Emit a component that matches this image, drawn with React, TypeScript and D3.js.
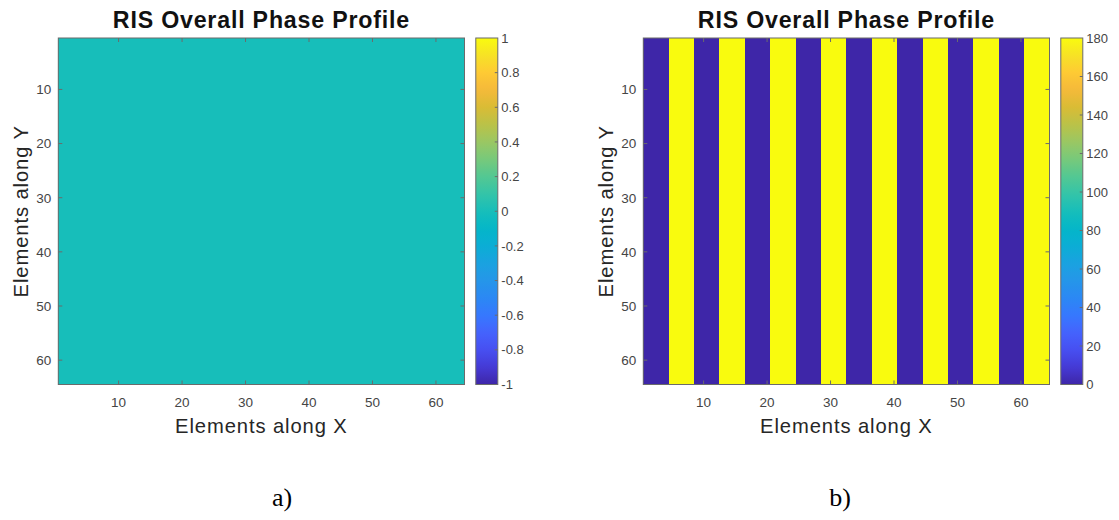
import React from "react";
import * as d3 from "d3";

// Phase (deg) per RIS column; every row of the 64x64 array repeats the same column profile.
const phaseColsA: number[] = [
  0, 0, 0, 0, 0, 0, 0, 0, 0, 0, 0, 0, 0, 0, 0, 0,
  0, 0, 0, 0, 0, 0, 0, 0, 0, 0, 0, 0, 0, 0, 0, 0,
  0, 0, 0, 0, 0, 0, 0, 0, 0, 0, 0, 0, 0, 0, 0, 0,
  0, 0, 0, 0, 0, 0, 0, 0, 0, 0, 0, 0, 0, 0, 0, 0,
];
const phaseColsB: number[] = [
  0, 0, 0, 0, 180, 180, 180, 180, 0, 0, 0, 0, 180, 180, 180, 180,
  0, 0, 0, 0, 180, 180, 180, 180, 0, 0, 0, 0, 180, 180, 180, 180,
  0, 0, 0, 0, 180, 180, 180, 180, 0, 0, 0, 0, 180, 180, 180, 180,
  0, 0, 0, 0, 180, 180, 180, 180, 0, 0, 0, 0, 180, 180, 180, 180,
];
const numRows = 64;

const axisTicks: number[] = [10, 20, 30, 40, 50, 60];
const cbarTicksA: string[] = ["-1", "-0.8", "-0.6", "-0.4", "-0.2", "0", "0.2", "0.4", "0.6", "0.8", "1"];
const cbarTicksB: string[] = ["0", "20", "40", "60", "80", "100", "120", "140", "160", "180"];

const titleText = "RIS Overall Phase Profile";
const xLabelText = "Elements along X";
const yLabelText = "Elements along Y";
const panelTags: string[] = ["a)", "b)"];

// parula colormap key colours, low to high
const parulaStops: string[] = [
  "rgb(62,38,168)", "rgb(69,58,214)", "rgb(71,79,241)", "rgb(69,99,253)",
  "rgb(54,120,254)", "rgb(43,136,244)", "rgb(37,150,233)", "rgb(26,162,224)",
  "rgb(11,173,213)", "rgb(4,182,200)", "rgb(23,190,186)", "rgb(52,196,168)",
  "rgb(83,200,147)", "rgb(119,201,123)", "rgb(154,199,99)", "rgb(186,194,72)",
  "rgb(217,188,53)", "rgb(245,185,58)", "rgb(254,202,52)", "rgb(246,226,38)",
  "rgb(249,251,14)",
];
const parula = d3.piecewise(d3.interpolateRgb, parulaStops);

const FONT = "'Liberation Sans', Arial, Helvetica, sans-serif";
const AXIS_GREY = "#6b6b6b";
const TEXT_GREY = "#454545";

type PanelProps = {
  ox: number;
  cols: number[];
  cmin: number;
  cmax: number;
  cticks: string[];
  tag: string;
  tagX: number;
  id: string;
};

function Panel({ ox, cols, cmin, cmax, cticks, tag, tagX, id }: PanelProps) {
  const left = ox + 58.3;
  const right = ox + 464.5;
  const top = 38;
  const bottom = 384.5;
  const x = d3.scaleLinear().domain([0.5, 64.5]).range([left, right]);
  const y = d3.scaleLinear().domain([0.5, 64.5]).range([top, bottom]);
  const color = d3.scaleSequential(parula).domain([cmin, cmax]);

  const cbL = right + 11.3;
  const cbR = cbL + 22;
  const cbY = d3.scaleLinear().domain([cmin, cmax]).range([bottom, top]);
  const gradStops = d3.range(0, 1.0001, 0.02);

  const rows = d3.range(1, numRows + 1);
  const tickLen = 4;

  return (
    <g>
      <defs>
        <linearGradient id={id} x1="0" y1="1" x2="0" y2="0">
          {gradStops.map((t) => (
            <stop key={t} offset={t} stopColor={parula(t)} />
          ))}
        </linearGradient>
      </defs>

      {/* image cells */}
      <g shapeRendering="crispEdges">
        {rows.map((r) =>
          cols.map((v, ci) => (
            <rect
              key={`${r}-${ci}`}
              x={x(ci + 0.5)}
              y={y(r - 0.5)}
              width={x(ci + 1.5) - x(ci + 0.5) + 0.5}
              height={y(r + 0.5) - y(r - 0.5) + 0.5}
              fill={color(v)}
            />
          ))
        )}
      </g>

      {/* axes box and inward ticks */}
      <rect x={left} y={top} width={right - left} height={bottom - top} fill="none" stroke={AXIS_GREY} strokeWidth={1} />
      {axisTicks.map((t) => (
        <g key={`t${t}`} stroke={AXIS_GREY} strokeWidth={1}>
          <line x1={x(t)} x2={x(t)} y1={bottom} y2={bottom - tickLen} />
          <line x1={x(t)} x2={x(t)} y1={top} y2={top + tickLen} />
          <line x1={left} x2={left + tickLen} y1={y(t)} y2={y(t)} />
          <line x1={right} x2={right - tickLen} y1={y(t)} y2={y(t)} />
        </g>
      ))}
      {axisTicks.map((t) => (
        <text key={`xl${t}`} x={x(t)} y={406.5} textAnchor="middle" fontFamily={FONT} fontSize={13.5} fill={TEXT_GREY}>
          {t}
        </text>
      ))}
      {axisTicks.map((t) => (
        <text key={`yl${t}`} x={left - 7} y={y(t) + 4.8} textAnchor="end" fontFamily={FONT} fontSize={13.5} fill={TEXT_GREY}>
          {t}
        </text>
      ))}

      {/* title and axis labels */}
      <text x={(left + right) / 2} y={28.3} textAnchor="middle" fontFamily={FONT} fontWeight="bold" fontSize={23.2} letterSpacing={0.8} fill="#111">
        {titleText}
      </text>
      <text x={(left + right) / 2} y={433.3} textAnchor="middle" fontFamily={FONT} fontSize={20.2} letterSpacing={0.9} fill="#262626">
        {xLabelText}
      </text>
      <text
        transform={`translate(${ox + 28.3},${(top + bottom) / 2}) rotate(-90)`}
        textAnchor="middle"
        fontFamily={FONT}
        fontSize={20.2}
        letterSpacing={0.9}
        fill="#262626"
      >
        {yLabelText}
      </text>

      {/* colorbar */}
      <rect x={cbL} y={top} width={cbR - cbL} height={bottom - top} fill={`url(#${id})`} stroke={AXIS_GREY} strokeWidth={1} />
      {cticks.map((s) => {
        const v = +s;
        const yy = cbY(v);
        const inner = v !== cmin && v !== cmax;
        return (
          <g key={`c${s}`}>
            {inner && <line x1={cbR} x2={cbR - 3} y1={yy} y2={yy} stroke={AXIS_GREY} strokeWidth={1} />}
            <text x={cbR + 3.5} y={yy + 4.6} fontFamily={FONT} fontSize={13} fill={TEXT_GREY}>
              {s}
            </text>
          </g>
        );
      })}

      {/* sub-figure tag */}
      <text x={tagX} y={506} textAnchor="middle" fontFamily="'Liberation Serif', 'Times New Roman', serif" fontSize={26} fill="#000">
        {tag}
      </text>
    </g>
  );
}

export default function App() {
  return (
    <svg
      width={1119}
      height={520}
      style={{ position: "absolute", left: 0, top: 0, background: "#fff" }}
    >
      <rect width={1119} height={520} fill="#fff" />
      <Panel ox={0} cols={phaseColsA} cmin={-1} cmax={1} cticks={cbarTicksA} tag={panelTags[0]} tagX={282} id="cbA" />
      <Panel ox={585} cols={phaseColsB} cmin={0} cmax={180} cticks={cbarTicksB} tag={panelTags[1]} tagX={840} id="cbB" />
    </svg>
  );
}
